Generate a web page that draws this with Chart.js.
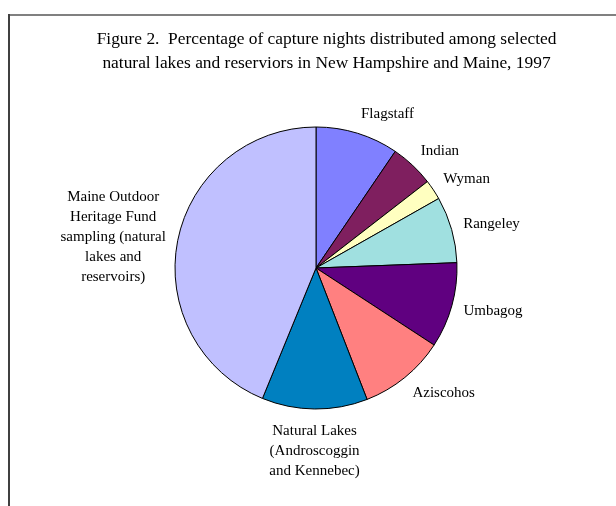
<!DOCTYPE html>
<html>
<head>
<meta charset="utf-8">
<script src="https://cdn.jsdelivr.net/npm/chart.js@4"></script>
<style>
  html, body { margin: 0; padding: 0; background: #fff; }
  #wrap { width: 616px; height: 506px; position: relative; }
</style>
</head>
<body>
<div id="wrap"><canvas id="c" width="616" height="506"></canvas></div>
<script>
const titleLines = [
  'Figure 2.  Percentage of capture nights distributed among selected',
  'natural lakes and reserviors in New Hampshire and Maine, 1997'
];
const categories = [
  'Flagstaff', 'Indian', 'Wyman', 'Rangeley', 'Umbagog', 'Aziscohos',
  'Natural Lakes (Androscoggin and Kennebec)',
  'Maine Outdoor Heritage Fund sampling (natural lakes and reservoirs)'
];
const labelLines = [
  ['Flagstaff'], ['Indian'], ['Wyman'], ['Rangeley'], ['Umbagog'], ['Aziscohos'],
  ['Natural Lakes', '(Androscoggin', 'and Kennebec)'],
  ['Maine Outdoor', 'Heritage Fund', 'sampling (natural', 'lakes and', 'reservoirs)']
];
const values = [9.5, 5.0, 2.3, 7.6, 9.8, 9.9, 12.1, 43.8];
const colors = ['#8080FF', '#7F1F5F', '#FFFFC0', '#A0E0E0', '#600080', '#FF8080', '#0080C0', '#C0C0FF'];

const SERIF = '"Liberation Serif", "Times New Roman", serif';

const framePlugin = {
  id: 'frame',
  beforeDraw(chart) {
    const ctx = chart.ctx;
    ctx.save();
    ctx.fillStyle = '#fff';
    ctx.fillRect(0, 0, chart.width, chart.height);
    ctx.lineWidth = 2;
    ctx.strokeStyle = '#808080';
    ctx.beginPath();
    ctx.moveTo(8, 15);
    ctx.lineTo(chart.width, 15);
    ctx.stroke();
    ctx.strokeStyle = '#404040';
    ctx.beginPath();
    ctx.moveTo(9, 14);
    ctx.lineTo(9, chart.height);
    ctx.stroke();
    ctx.fillStyle = '#000';
    ctx.font = '17.4px ' + SERIF;
    ctx.textAlign = 'center';
    ctx.textBaseline = 'alphabetic';
    ctx.fillText(titleLines[0], 326.5, 43.5);
    ctx.fillText(titleLines[1], 326.5, 67.5);
    ctx.restore();
  }
};

const labelPlugin = {
  id: 'sliceLabels',
  afterDatasetsDraw(chart) {
    const ctx = chart.ctx;
    const meta = chart.getDatasetMeta(0);
    ctx.save();
    ctx.fillStyle = '#000';
    ctx.font = '15px ' + SERIF;
    ctx.textAlign = 'center';
    ctx.textBaseline = 'middle';
    meta.data.forEach((arc, i) => {
      const p = arc.getProps(['x', 'y', 'startAngle', 'endAngle', 'outerRadius'], true);
      const mid = (p.startAngle + p.endAngle) / 2;
      const dx = Math.cos(mid), dy = Math.sin(mid);
      const R = p.outerRadius + 12;
      const px = p.x + R * dx, py = p.y + R * dy;
      const lines = labelLines[i];
      const lh = lines.length > 1 ? 20 : 16;
      const h = lines.length * lh;
      let w = 0;
      lines.forEach(l => { w = Math.max(w, ctx.measureText(l).width); });
      let left;
      if (dx > 0.15) left = px;
      else if (dx < -0.15) left = px - w;
      else left = px - w / 2;
      const cy = py + dy * (Math.abs(dx) < 0.5 ? h : 16) / 2;
      const top = cy - h / 2;
      lines.forEach((l, k) => {
        ctx.fillText(l, left + w / 2, top + lh * (k + 0.5));
      });
    });
    ctx.restore();
  }
};

new Chart(document.getElementById('c'), {
  type: 'pie',
  data: {
    labels: categories,
    datasets: [{
      data: values,
      backgroundColor: colors,
      borderColor: '#000',
      borderWidth: 1
    }]
  },
  options: {
    responsive: false,
    animation: false,
    radius: 141,
    layout: { padding: { left: 175, right: 159, top: 127, bottom: 97 } },
    plugins: {
      legend: { display: false },
      tooltip: { enabled: false },
      title: { display: false }
    }
  },
  plugins: [framePlugin, labelPlugin]
});
</script>
</body>
</html>
